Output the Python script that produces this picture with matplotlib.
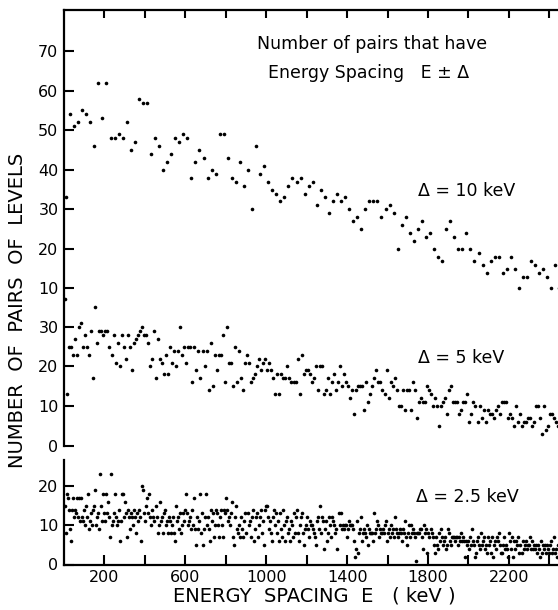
import matplotlib
matplotlib.use("Agg")
import matplotlib.pyplot as plt
import numpy as np

# number of level pairs with spacing E +- delta
# delta = 10 keV  (bins every 20 keV)
top_counts = [
    33, 54, 51, 52, 55, 54, 52, 46, 62, 53,
    62, 48, 48, 49, 48, 52, 45, 47, 58, 57,
    57, 44, 48, 46, 40, 42, 44, 48, 47, 49,
    48, 38, 42, 45, 43, 38, 40, 39, 49, 49,
    43, 38, 37, 42, 36, 40, 30, 46, 39, 41,
    37, 35, 34, 32, 33, 36, 38, 37, 38, 34,
    36, 37, 31, 35, 33, 29, 32, 34, 32, 33,
    30, 27, 28, 25, 30, 32, 32, 32, 28, 30,
    31, 29, 20, 26, 28, 24, 22, 25, 27, 23,
    24, 20, 18, 17, 25, 27, 23, 20, 20, 24,
    20, 17, 19, 16, 14, 17, 18, 18, 14, 15,
    18, 15, 10, 13, 13, 17, 16, 14, 15, 13,
    10, 16, 10,
]

# delta = 5 keV  (bins every 10 keV)
mid_counts = [
    37, 13, 25, 25, 23, 27, 23, 30, 31, 25, 28, 25, 23, 29, 17, 35, 26, 29, 29, 28,
    29, 29, 25, 23, 28, 21, 26, 20, 28, 25, 22, 28, 25, 19, 26, 27, 28, 29, 30, 28,
    28, 26, 20, 22, 29, 17, 27, 22, 21, 18, 23, 18, 25, 21, 24, 20, 24, 30, 23, 25,
    21, 25, 25, 16, 25, 19, 24, 17, 24, 20, 24, 14, 26, 15, 23, 19, 23, 23, 28, 16,
    30, 21, 21,
    15, 25, 16, 24, 17, 14, 21, 23, 21, 16, 17, 18, 20, 22, 19, 21, 22, 19, 21, 19,
    17, 13, 18, 13, 18, 17, 17, 20, 17, 16, 16, 16, 22, 13, 23, 18, 19, 19, 18, 16,
    17, 20, 14, 20, 20, 13, 14, 17, 13, 16, 18, 14, 16, 20, 15, 18, 16, 15, 12, 14,
    8, 14, 15, 15, 15, 9, 16, 11, 13, 15, 17, 19, 16, 16, 14, 13, 19, 12, 16, 15,
    17, 14, 10,
    10, 14, 9, 14, 14, 9, 16, 14, 7, 11, 12, 11, 11, 15, 14, 13, 10, 12, 10, 5,
    10, 11, 12, 8, 14, 15, 11, 11, 11, 8, 9, 11, 11, 13, 6, 8, 11, 10, 6, 10,
    7, 9, 6, 9, 8, 8, 7, 9, 10, 8, 11, 11, 11, 7, 8, 7, 5, 10, 6, 8,
    5, 6, 6, 7, 7, 5, 6, 10, 10, 7, 3, 10, 4, 5, 8, 8, 7, 6, 5,
]

# delta = 2.5 keV  (bins every 5 keV)
bot_counts = [
    15, 8, 18, 17, 14, 9, 6, 14, 17, 12, 14, 13, 17, 12, 17, 11, 17, 12, 11, 14,
    10, 15, 12, 18, 9, 11, 13, 10, 14, 15, 19, 10, 12, 13, 9, 23, 15, 11, 18, 13,
    11, 18, 13, 16, 12, 7, 23, 10, 11, 13, 18, 12, 10, 11, 14, 6, 11, 18, 18, 12,
    16, 13, 7, 14, 12, 9, 13, 12, 10, 14, 12, 8, 13, 11, 14, 12, 6, 20, 19, 13,
    11, 15, 17, 13, 18, 12, 10, 14, 12, 11, 15, 12, 8, 10, 16, 11, 12, 8, 13, 14,
    10, 11, 8, 12, 11, 8, 10, 12, 8, 6, 15, 11, 12, 9, 13, 8, 10, 13, 11, 14,
    18, 13, 10, 11, 12, 9, 14, 10, 17, 9, 5, 12, 9, 11, 18, 8, 13, 5, 9, 12,
    18, 10, 12, 9, 6, 14, 11, 13, 7, 10, 14, 13, 10, 7, 12, 14, 10, 7, 14, 13,
    17, 14, 11, 12, 10, 13, 16, 7, 5, 12, 15, 9, 8, 10, 7, 12, 9, 7, 11, 13,
    8, 13, 10, 11, 7, 12, 14, 6, 9, 12, 13, 7, 10, 12, 14, 8, 11, 5, 14, 15,
    15, 12, 9, 11, 8, 6, 12, 14, 10, 13, 8, 11, 6, 13, 9, 7, 14, 10, 6, 11,
    12, 8, 9, 6, 11, 10, 7, 13, 8, 12, 14, 8, 6, 10, 12, 13, 8, 5, 9, 10,
    12, 9, 7,
    11, 10, 10, 9, 8, 7, 5, 11, 12, 9, 15, 8, 12, 11, 4, 9, 11, 6, 8, 12,
    10, 7, 12, 11, 10, 8, 9, 4, 13, 10, 13, 9, 10, 9, 10, 10, 7, 9, 11, 10,
    10, 10, 9, 6, 2, 4, 11, 3, 8, 9, 12, 6, 8, 9, 8, 7, 10, 5, 9, 8,
    8, 8, 6, 13, 8, 9, 11, 10, 7, 9, 8, 8, 9, 8, 10, 11, 6, 8, 9, 7,
    10, 8, 9, 7, 12, 9, 8, 7, 8, 9, 8, 6, 9, 8, 11, 7, 5, 8, 10, 7,
    10, 8, 9, 8, 7, 1, 8, 8, 8, 9, 9, 7, 4, 10, 8, 9, 3, 8, 7, 9,
    8, 7, 5, 3, 7, 5, 4, 8, 6, 9, 7, 5, 6, 7, 4, 5, 9, 8, 6, 5,
    7, 7, 7, 6, 7, 7, 5, 7, 6, 8, 6, 7, 6, 2, 6, 5, 6, 4, 7, 5,
    9, 6, 5, 2, 3, 6, 7, 5, 4, 8, 5, 6, 7, 4, 5, 3, 7, 5, 6, 3,
    7, 2, 5, 6, 4, 7, 6, 8, 5, 3, 3, 5, 7, 4, 5, 4, 2, 8, 6, 4,
    7, 2, 6, 4, 6, 5, 7, 3, 5, 3, 6, 4, 5, 6, 4, 5, 5, 7, 4, 6,
    4, 5, 4, 5, 3, 5, 4, 2, 6, 3, 5, 4, 5, 3, 5, 4, 3, 5, 6, 3,
    4, 7, 3, 4, 2, 5,
]

# bin centres: E +- delta, consecutive non-overlapping bins
top_E = 10 + 20 * np.arange(len(top_counts))
mid_E = 5 + 10 * np.arange(len(mid_counts))
bot_E = 2.5 + 5 * np.arange(len(bot_counts))

panel_labels = ["Δ = 10 keV", "Δ = 5 keV", "Δ = 2.5 keV"]
x_ticks = list(range(200, 2401, 200))
x_ticklabels = ["200", "", "600", "", "1000", "", "1400", "", "1800", "", "2200", ""]

plt.rcParams["font.family"] = ["DejaVu Sans"]
FS = 11.5
W, H = 558, 610
fig = plt.figure(figsize=(W / 100, H / 100), dpi=100)


def px_axes(x0, y_top, x1, y_bot):
    return fig.add_axes([x0 / W, 1 - y_bot / H, (x1 - x0) / W, (y_bot - y_top) / H])


ax_top = px_axes(64, 10, 558, 294)
ax_mid = px_axes(64, 296, 558, 445.7)
ax_bot = px_axes(64, 460, 558, 564.5)

ax_top.set_ylim(8.6, 80.4)
ax_mid.set_ylim(0, 37.8)
ax_bot.set_ylim(0, 26.6)

for ax, E, n in [(ax_top, top_E, top_counts), (ax_mid, mid_E, mid_counts),
                 (ax_bot, bot_E, bot_counts)]:
    ax.plot(E, n, "o", color="black", ms=2.6, mec="none")
    ax.set_xlim(0, 2443)
    ax.patch.set_visible(False)
    for s in ["right", "top", "bottom"]:
        ax.spines[s].set_visible(False)
    ax.spines["left"].set_linewidth(1.6)
    ax.tick_params(axis="y", direction="in", length=7, width=1.5,
                   labelsize=FS, pad=4)

ax_top.set_yticks(range(10, 71, 10))
ax_mid.set_yticks(range(0, 31, 10))
ax_bot.set_yticks([0, 10, 20])

# top frame with inward ticks
ax_top.spines["top"].set_visible(True)
ax_top.spines["top"].set_linewidth(1.6)
ax_top.xaxis.set_ticks_position("top")
ax_top.set_xticks(x_ticks)
ax_top.tick_params(axis="x", direction="in", length=6, width=1.5, labeltop=False)

ax_mid.set_xticks([])

ax_bot.spines["bottom"].set_visible(True)
ax_bot.spines["bottom"].set_linewidth(1.6)
ax_bot.set_xticks(x_ticks)
ax_bot.set_xticklabels(x_ticklabels)
ax_bot.tick_params(axis="x", direction="in", length=7, width=1.5,
                   labelsize=FS, pad=4)

fig.text(372 / W, 1 - 44 / H, "Number of pairs that have", fontsize=12.5,
         ha="center", va="center")
fig.text(369 / W, 1 - 73 / H, "Energy Spacing   E ± Δ", fontsize=12.5,
         ha="center", va="center")
fig.text(467 / W, 1 - 191 / H, panel_labels[0], fontsize=12.5, ha="center", va="center")
fig.text(461 / W, 1 - 358 / H, panel_labels[1], fontsize=12.5, ha="center", va="center")
fig.text(467 / W, 1 - 497 / H, panel_labels[2], fontsize=12.5, ha="center", va="center")

fig.text(18 / W, 1 - 310 / H, "NUMBER  OF  PAIRS  OF  LEVELS", fontsize=14,
         rotation=90, ha="center", va="center")
fig.text(314 / W, 1 - 596 / H, "ENERGY  SPACING  E   ( keV )", fontsize=14,
         ha="center", va="center")

fig.savefig("out.png", dpi=100)
